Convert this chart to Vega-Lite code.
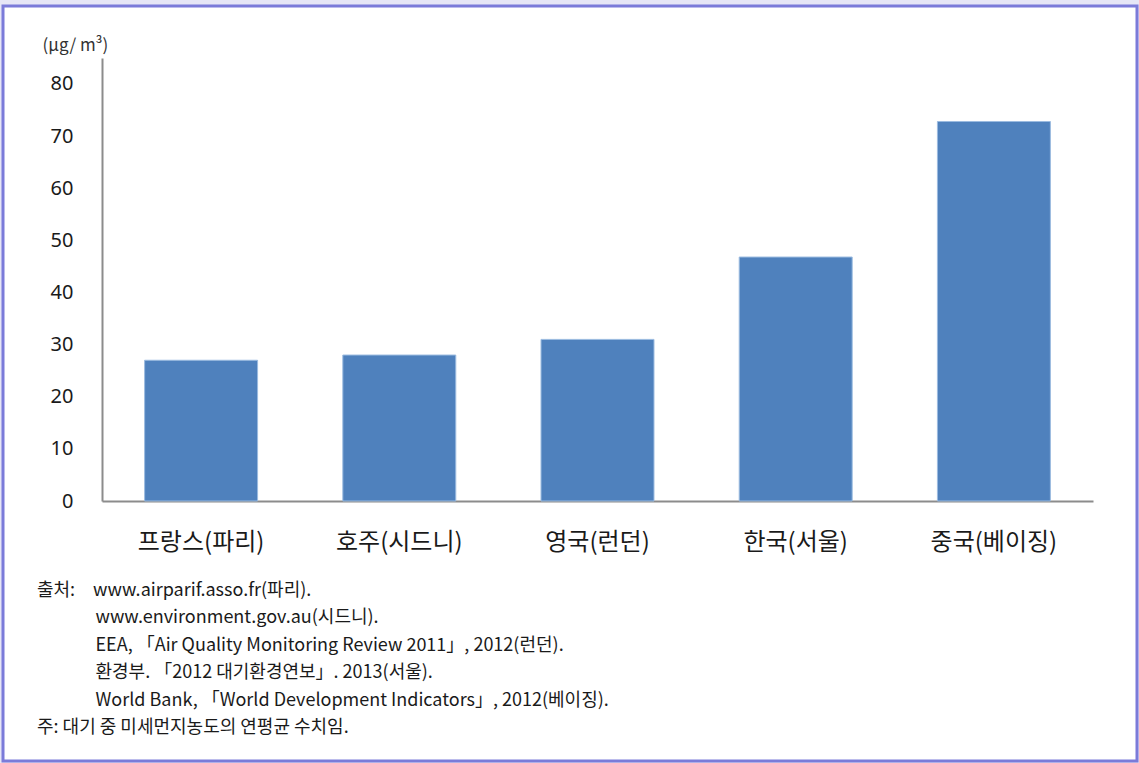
{
  "$schema": "https://vega.github.io/schema/vega-lite/v6.json",
  "autosize": {"type": "none"},
  "padding": {"left": 3, "top": 6, "right": 2, "bottom": 2},
  "width": 1134,
  "height": 755,
  "background": "#e6e6f6",
  "config": {
    "view": {"fill": "white", "stroke": "#7b7bd9", "strokeWidth": 3},
    "font": "Noto Sans CJK KR"
  },
  "title": {
    "text": [
      "출처:\u2003www.airparif.asso.fr(파리).",
      "\u200b\u2003\u2003\u2003\u2005www.environment.gov.au(시드니).",
      "\u200b\u2003\u2003\u2003\u2005EEA, 「Air Quality Monitoring Review 2011」, 2012(런던).",
      "\u200b\u2003\u2003\u2003\u2005환경부. 「2012 대기환경연보」. 2013(서울).",
      "\u200b\u2003\u2003\u2003\u2005World Bank, 「World Development Indicators」, 2012(베이징).",
      "주: 대기 중 미세먼지농도의 연평균 수치임."
    ],
    "anchor": "start",
    "orient": "top",
    "baseline": "top",
    "font": "Noto Sans CJK KR",
    "fontSize": 18,
    "fontWeight": "normal",
    "color": "#1a1a1a",
    "lineHeight": 27.5,
    "dx": 34,
    "dy": 735
  },
  "data": {
    "values": [
      {"city": "프랑스(파리)", "value": 27},
      {"city": "호주(시드니)", "value": 28},
      {"city": "영국(런던)", "value": 31},
      {"city": "한국(서울)", "value": 46.8},
      {"city": "중국(베이징)", "value": 72.8}
    ]
  },
  "mark": {"type": "bar", "color": "#4f81bd", "stroke": "#9bbbe0", "strokeWidth": 1},
  "encoding": {
    "x": {
      "field": "city",
      "type": "nominal",
      "sort": null,
      "scale": {"range": [99, 1090], "paddingInner": 0.43, "paddingOuter": 0.215},
      "axis": {
        "title": null,
        "orient": "bottom",
        "offset": -260,
        "labelAngle": 0,
        "labelFontSize": 24,
        "labelFont": "Noto Sans CJK KR",
        "labelColor": "#1a1a1a",
        "labelPadding": 29,
        "ticks": false,
        "tickSize": 0,
        "domainColor": "#8c8c8c",
        "domainWidth": 2
      }
    },
    "y": {
      "field": "value",
      "type": "quantitative",
      "scale": {"domain": [0, 85], "range": [495, 51.9], "nice": false, "zero": false},
      "axis": {
        "title": "(μg/ m³)",
        "titleAngle": 0,
        "titleAlign": "left",
        "titleBaseline": "middle",
        "titleX": -60,
        "titleY": 39,
        "titleFontSize": 17,
        "titleFontWeight": "normal",
        "titleColor": "#333333",
        "titleFont": "Noto Sans CJK KR",
        "orient": "left",
        "offset": -99,
        "values": [0, 10, 20, 30, 40, 50, 60, 70, 80],
        "grid": false,
        "ticks": false,
        "tickSize": 0,
        "labelPadding": 29,
        "labelFontSize": 20,
        "labelFont": "Noto Sans",
        "labelColor": "#1a1a1a",
        "domainColor": "#8c8c8c",
        "domainWidth": 2
      }
    }
  }
}
